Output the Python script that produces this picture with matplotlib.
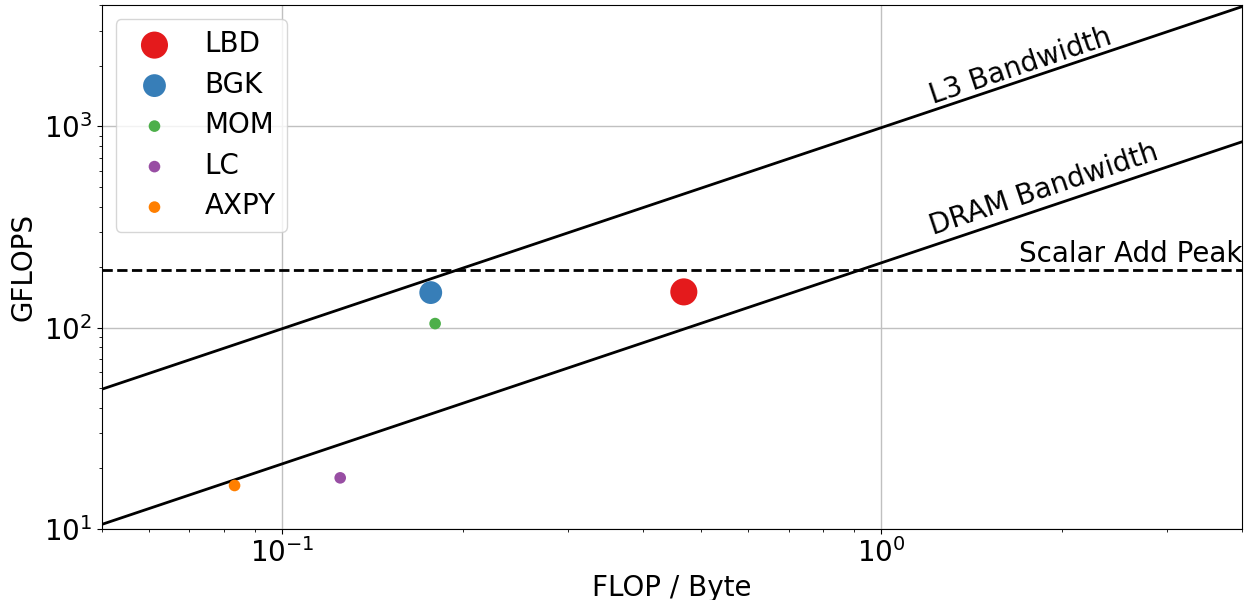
import numpy as np
import matplotlib
matplotlib.use("Agg")
import matplotlib.pyplot as plt

# ---- data ----
kernels = ["LBD", "BGK", "MOM", "LC", "AXPY"]
intensity = [0.468, 0.177, 0.180, 0.125, 0.0833]      # FLOP / Byte
gflops = [150.5, 149.3, 104.7, 17.9, 16.4]             # GFLOPS
colors = ["#e41a1c", "#377eb8", "#4daf4a", "#984ea3", "#ff7f00"]
marker_sizes = [380, 270, 70, 70, 70]

roof_names = ["L3 Bandwidth", "DRAM Bandwidth"]
roof_bandwidth = [987.0, 210.0]   # GB/s
scalar_add_peak = 193.0           # GFLOPS

x_range = [0.05, 4.0]
y_range = [10.0, 4000.0]

FS = 20

# ---- figure ----
fig = plt.figure(figsize=(12.46, 6.0), dpi=100)
ax = fig.add_axes([101.7 / 1246, 1 - 528.7 / 600, (1242.3 - 101.7) / 1246, (528.7 - 5.4) / 600])
ax.set_xscale("log")
ax.set_yscale("log")
ax.set_xlim(*x_range)
ax.set_ylim(*y_range)
ax.grid(True, which="major", color="#c0c0c0", linewidth=1.0)
ax.set_axisbelow(True)

xs = np.array(x_range)
for name, bw in zip(roof_names, roof_bandwidth):
    ax.plot(xs, bw * xs, color="black", linewidth=2.0)

ax.axhline(scalar_add_peak, color="black", linestyle="--", linewidth=2.0)

for k, x, y, c, s in zip(kernels, intensity, gflops, colors, marker_sizes):
    ax.scatter([x], [y], s=s, color=c, label=k, edgecolors="none", zorder=3)

# angle of the slope-1 lines on screen
p0 = ax.transData.transform((1.0, 1.0))
p1 = ax.transData.transform((10.0, 10.0))
angle = np.degrees(np.arctan2(p1[1] - p0[1], p1[0] - p0[0]))

label_x = 1.217
ax.text(label_x, roof_bandwidth[0] * label_x * 1.08, roof_names[0], rotation=angle,
        rotation_mode="anchor", ha="left", va="baseline", fontsize=FS)
ax.text(label_x, roof_bandwidth[1] * label_x * 1.13, roof_names[1], rotation=angle,
        rotation_mode="anchor", ha="left", va="baseline", fontsize=FS)
ax.text(4.0, scalar_add_peak * 1.1, "Scalar Add Peak", ha="right", va="baseline", fontsize=FS)

ax.set_xlabel("FLOP / Byte", fontsize=FS)
ax.set_ylabel("GFLOPS", fontsize=FS)
ax.tick_params(axis="both", which="major", labelsize=FS)

leg = ax.legend(loc="upper left", fontsize=FS, labelspacing=0.45, scatterpoints=1)

fig.savefig("out.png", dpi=100)
